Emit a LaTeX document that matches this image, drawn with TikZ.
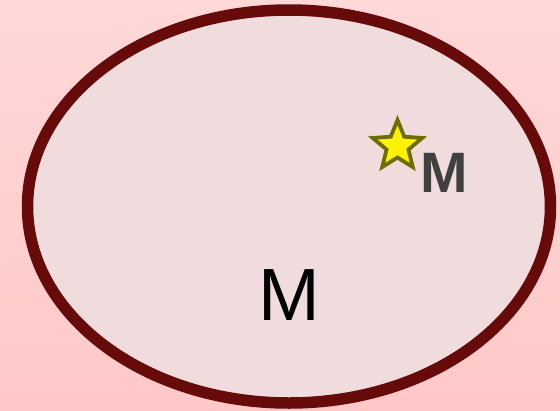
\documentclass[tikz,border=0pt]{standalone}
\usepackage{fontspec}
\setmainfont{Liberation Sans}
\usetikzlibrary{calc}
\definecolor{bgtop}{RGB}{255,216,216}
\definecolor{bgbot}{RGB}{255,200,200}
\definecolor{rim}{RGB}{102,10,10}
\definecolor{inside}{RGB}{240,220,220}
\definecolor{starline}{RGB}{110,110,0}
\definecolor{smallgray}{RGB}{64,64,64}
\begin{document}
\begin{tikzpicture}[x=1pt,y=-1pt,
  setshape/.style={draw=rim,fill=inside,line width=11.5pt},
  starshape/.style={draw=starline,fill=yellow,line width=3.8pt,line join=miter},
  biglabel/.style={inner sep=0pt,anchor=base,text=black,font=\fontsize{74}{74}\selectfont},
  smalllabel/.style={inner sep=0pt,anchor=base,text=smallgray,font=\bfseries\fontsize{57}{57}\selectfont}]
\shade[top color=bgtop,bottom color=bgbot] (0,0) rectangle (560,410);
\useasboundingbox (0,0) rectangle (560,410);
\draw[setshape] (289,206.5) ellipse [x radius=261.5, y radius=196.5];
\coordinate (starc) at (397.5,146);
\draw[starshape] ($(starc)+(90:-26)$)
  \foreach \k in {1,...,9} {
    -- ($(starc)+({90+36*\k}:{ifthenelse(mod(\k,2)==1,-11.5,-26)})$)
  } -- cycle;
\node[biglabel] (bigM) at (289.5,320) {M};
\node[smalllabel] (smallM) at (444.5,192.5) {M};
\end{tikzpicture}
\end{document}
